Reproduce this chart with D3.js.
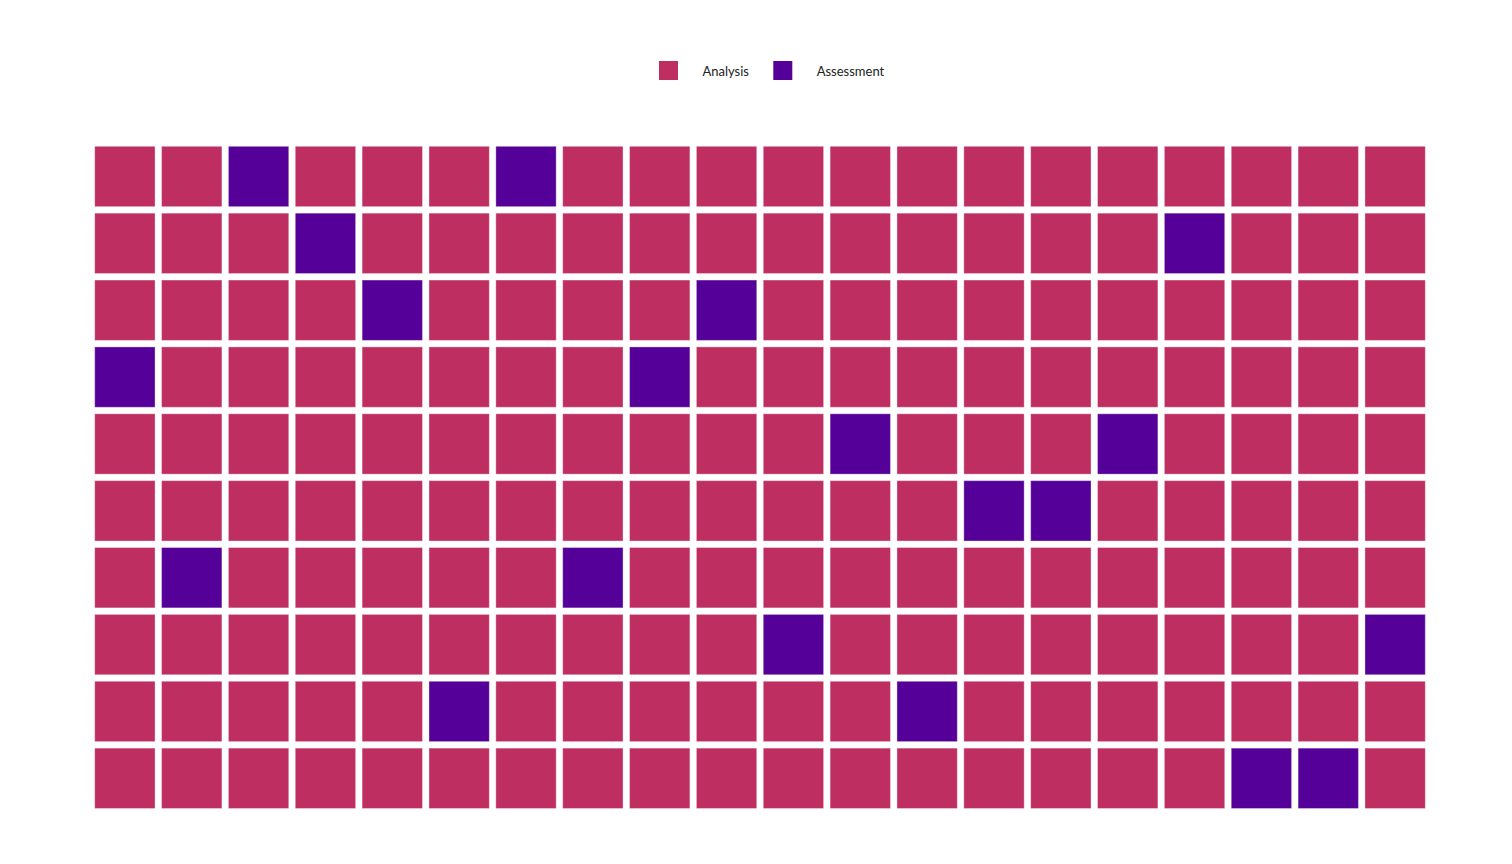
<!DOCTYPE html>
<html>
<head>
<meta charset="utf-8">
<script src="https://cdn.jsdelivr.net/npm/d3@7"></script>
<style>
  html, body { margin: 0; padding: 0; background: #fff; }
  svg { display: block; font-family: Lato, "Noto Sans", sans-serif; }
</style>
</head>
<body>
<svg id="chart" width="1512" height="864"></svg>
<script>
// Categories and colours
const categories = ["Analysis", "Assessment"];
const colors = ["#BE2E60", "#550099"];
// Grid size
const nCols = 20;
const nRows = 10;
// Cells belonging to "Assessment" as [row, col]; all other cells are "Analysis"
const assessmentCells = [
  [0, 2], [0, 6],
  [1, 3], [1, 16],
  [2, 4], [2, 9],
  [3, 0], [3, 8],
  [4, 11], [4, 15],
  [5, 13], [5, 14],
  [6, 1], [6, 7],
  [7, 10], [7, 19],
  [8, 5], [8, 12],
  [9, 17], [9, 18]
];

const svg = d3.select("#chart");
const isAssess = new Set(assessmentCells.map(d => d[0] + "-" + d[1]));
const cells = [];
for (let r = 0; r < nRows; r++) {
  for (let c = 0; c < nCols; c++) {
    cells.push({ row: r, col: c, cat: isAssess.has(r + "-" + c) ? categories[1] : categories[0] });
  }
}

const x = d3.scaleBand().domain(d3.range(nCols)).range([94.7, 1425.3]).paddingInner(0.0973).paddingOuter(0);
const y = d3.scaleBand().domain(d3.range(nRows)).range([146.3, 808.5]).paddingInner(0.0973).paddingOuter(0);
const color = d3.scaleOrdinal().domain(categories).range(colors);

svg.append("g").selectAll("rect").data(cells).join("rect")
  .attr("x", d => x(d.col))
  .attr("y", d => y(d.row))
  .attr("width", x.bandwidth())
  .attr("height", y.bandwidth())
  .attr("fill", d => color(d.cat))
  .attr("stroke", "rgba(255,255,255,0.35)")
  .attr("stroke-width", 1);

// Legend
const legendX = [659, 773.3];
const lg = svg.append("g").selectAll("g").data(categories).join("g")
  .attr("transform", (d, i) => `translate(${legendX[i]},61)`);
lg.append("rect").attr("width", 19).attr("height", 19).attr("fill", d => color(d));
lg.append("text").attr("x", 43.4).attr("y", 15.3)
  .attr("font-size", 13).attr("fill", "#222").text(d => d);
</script>
</body>
</html>
